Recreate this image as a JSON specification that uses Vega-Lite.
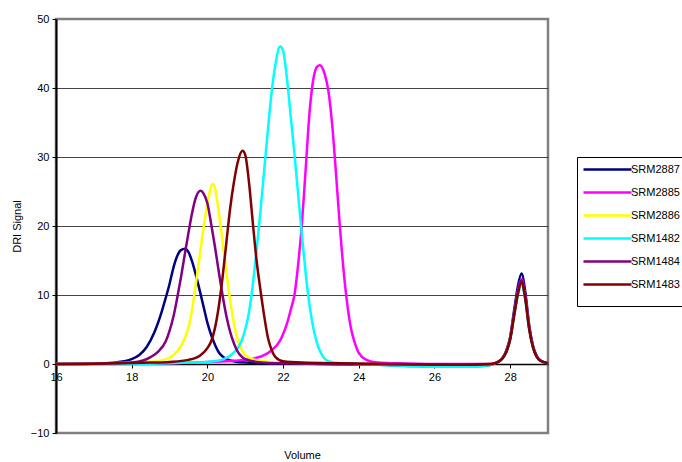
{
"$schema": "https://vega.github.io/schema/vega-lite/v6.json",
"width": 492, "height": 414,
"autosize": "none",
"padding": {"left": 56, "top": 19, "right": 134, "bottom": 29},
"background": "white",
"config": {"font": "Liberation Sans", "view": {"stroke": "#808080", "strokeWidth": 2.5}},
"data": {"values": [
{"s":"SRM2887","v":16,"d":0},{"s":"SRM2887","v":16.5,"d":0},{"s":"SRM2887","v":17,"d":0.05},{"s":"SRM2887","v":17.5,"d":0.2},{"s":"SRM2887","v":17.8,"d":0.4},{"s":"SRM2887","v":18,"d":0.7},{"s":"SRM2887","v":18.2,"d":1.3},{"s":"SRM2887","v":18.4,"d":2.5},{"s":"SRM2887","v":18.6,"d":4.6},{"s":"SRM2887","v":18.8,"d":7.7},{"s":"SRM2887","v":18.9,"d":9.6},{"s":"SRM2887","v":19,"d":11.6},{"s":"SRM2887","v":19.1,"d":13.9},{"s":"SRM2887","v":19.2,"d":15.6},{"s":"SRM2887","v":19.3,"d":16.5},{"s":"SRM2887","v":19.41,"d":16.7},{"s":"SRM2887","v":19.5,"d":16.2},{"s":"SRM2887","v":19.6,"d":14.8},{"s":"SRM2887","v":19.7,"d":12.8},{"s":"SRM2887","v":19.8,"d":10.6},{"s":"SRM2887","v":19.9,"d":8.3},{"s":"SRM2887","v":20,"d":6},{"s":"SRM2887","v":20.1,"d":4.2},{"s":"SRM2887","v":20.2,"d":2.8},{"s":"SRM2887","v":20.3,"d":1.7},{"s":"SRM2887","v":20.4,"d":1.1},{"s":"SRM2887","v":20.6,"d":0.5},{"s":"SRM2887","v":21,"d":0.2},{"s":"SRM2887","v":22,"d":0.1},{"s":"SRM2887","v":23,"d":0},{"s":"SRM2887","v":24.5,"d":-0.1},{"s":"SRM2887","v":25.5,"d":-0.3},{"s":"SRM2887","v":26.5,"d":-0.4},{"s":"SRM2887","v":27.2,"d":-0.3},{"s":"SRM2887","v":27.5,"d":-0.1},{"s":"SRM2887","v":27.6,"d":0.13},{"s":"SRM2887","v":27.7,"d":0.39},{"s":"SRM2887","v":27.8,"d":0.92},{"s":"SRM2887","v":27.9,"d":1.97},{"s":"SRM2887","v":28,"d":3.93},{"s":"SRM2887","v":28.1,"d":7.6},{"s":"SRM2887","v":28.2,"d":11.14},{"s":"SRM2887","v":28.3,"d":13.1},{"s":"SRM2887","v":28.4,"d":10.48},{"s":"SRM2887","v":28.5,"d":5.76},{"s":"SRM2887","v":28.6,"d":2.75},{"s":"SRM2887","v":28.7,"d":1.18},{"s":"SRM2887","v":28.8,"d":0.52},{"s":"SRM2887","v":29,"d":0.13},
{"s":"SRM2885","v":16,"d":0},{"s":"SRM2885","v":18,"d":0.05},{"s":"SRM2885","v":19,"d":0.1},{"s":"SRM2885","v":20,"d":0.3},{"s":"SRM2885","v":20.5,"d":0.4},{"s":"SRM2885","v":21,"d":0.6},{"s":"SRM2885","v":21.3,"d":0.9},{"s":"SRM2885","v":21.5,"d":1.3},{"s":"SRM2885","v":21.7,"d":2},{"s":"SRM2885","v":21.9,"d":3.2},{"s":"SRM2885","v":22,"d":4.3},{"s":"SRM2885","v":22.1,"d":5.8},{"s":"SRM2885","v":22.2,"d":7.8},{"s":"SRM2885","v":22.3,"d":10},{"s":"SRM2885","v":22.4,"d":14.5},{"s":"SRM2885","v":22.5,"d":20.5},{"s":"SRM2885","v":22.6,"d":28.5},{"s":"SRM2885","v":22.7,"d":36.5},{"s":"SRM2885","v":22.8,"d":41.3},{"s":"SRM2885","v":22.9,"d":43.1},{"s":"SRM2885","v":22.97,"d":43.3},{"s":"SRM2885","v":23.1,"d":42},{"s":"SRM2885","v":23.2,"d":39.5},{"s":"SRM2885","v":23.3,"d":34.5},{"s":"SRM2885","v":23.4,"d":27.5},{"s":"SRM2885","v":23.5,"d":20},{"s":"SRM2885","v":23.6,"d":13.5},{"s":"SRM2885","v":23.7,"d":8.5},{"s":"SRM2885","v":23.8,"d":5},{"s":"SRM2885","v":23.9,"d":3},{"s":"SRM2885","v":24,"d":1.6},{"s":"SRM2885","v":24.2,"d":0.6},{"s":"SRM2885","v":24.5,"d":0.2},{"s":"SRM2885","v":25,"d":0.1},{"s":"SRM2885","v":26,"d":0},{"s":"SRM2885","v":27,"d":0},{"s":"SRM2885","v":27.5,"d":0},{"s":"SRM2885","v":27.6,"d":0.12},{"s":"SRM2885","v":27.7,"d":0.37},{"s":"SRM2885","v":27.8,"d":0.86},{"s":"SRM2885","v":27.9,"d":1.85},{"s":"SRM2885","v":28,"d":3.69},{"s":"SRM2885","v":28.1,"d":7.13},{"s":"SRM2885","v":28.2,"d":10.46},{"s":"SRM2885","v":28.3,"d":12.3},{"s":"SRM2885","v":28.4,"d":9.84},{"s":"SRM2885","v":28.5,"d":5.41},{"s":"SRM2885","v":28.6,"d":2.58},{"s":"SRM2885","v":28.7,"d":1.11},{"s":"SRM2885","v":28.8,"d":0.49},{"s":"SRM2885","v":29,"d":0.12},
{"s":"SRM2886","v":16,"d":0},{"s":"SRM2886","v":17,"d":0.05},{"s":"SRM2886","v":18,"d":0.2},{"s":"SRM2886","v":18.5,"d":0.35},{"s":"SRM2886","v":18.8,"d":0.5},{"s":"SRM2886","v":19,"d":0.9},{"s":"SRM2886","v":19.2,"d":1.8},{"s":"SRM2886","v":19.4,"d":3.7},{"s":"SRM2886","v":19.5,"d":5.3},{"s":"SRM2886","v":19.6,"d":8},{"s":"SRM2886","v":19.7,"d":11.8},{"s":"SRM2886","v":19.8,"d":15.8},{"s":"SRM2886","v":19.9,"d":19.8},{"s":"SRM2886","v":20,"d":23.3},{"s":"SRM2886","v":20.07,"d":25.2},{"s":"SRM2886","v":20.14,"d":26.1},{"s":"SRM2886","v":20.2,"d":25.5},{"s":"SRM2886","v":20.3,"d":22},{"s":"SRM2886","v":20.4,"d":17.8},{"s":"SRM2886","v":20.5,"d":13.4},{"s":"SRM2886","v":20.6,"d":9.3},{"s":"SRM2886","v":20.7,"d":5.9},{"s":"SRM2886","v":20.8,"d":3.5},{"s":"SRM2886","v":20.9,"d":2.1},{"s":"SRM2886","v":21,"d":1.3},{"s":"SRM2886","v":21.2,"d":0.7},{"s":"SRM2886","v":21.5,"d":0.4},{"s":"SRM2886","v":22,"d":0.2},{"s":"SRM2886","v":23,"d":0.1},{"s":"SRM2886","v":24,"d":0},{"s":"SRM2886","v":26,"d":-0.1},{"s":"SRM2886","v":27.5,"d":0},{"s":"SRM2886","v":27.6,"d":0.12},{"s":"SRM2886","v":27.7,"d":0.35},{"s":"SRM2886","v":27.8,"d":0.83},{"s":"SRM2886","v":27.9,"d":1.77},{"s":"SRM2886","v":28,"d":3.54},{"s":"SRM2886","v":28.1,"d":6.84},{"s":"SRM2886","v":28.2,"d":10.03},{"s":"SRM2886","v":28.3,"d":11.8},{"s":"SRM2886","v":28.4,"d":9.44},{"s":"SRM2886","v":28.5,"d":5.19},{"s":"SRM2886","v":28.6,"d":2.48},{"s":"SRM2886","v":28.7,"d":1.06},{"s":"SRM2886","v":28.8,"d":0.47},{"s":"SRM2886","v":29,"d":0.12},
{"s":"SRM1482","v":16,"d":0},{"s":"SRM1482","v":18,"d":0},{"s":"SRM1482","v":19,"d":0.1},{"s":"SRM1482","v":19.5,"d":0.2},{"s":"SRM1482","v":20,"d":0.3},{"s":"SRM1482","v":20.3,"d":0.5},{"s":"SRM1482","v":20.6,"d":1.2},{"s":"SRM1482","v":20.8,"d":2.3},{"s":"SRM1482","v":20.9,"d":3.3},{"s":"SRM1482","v":21,"d":5},{"s":"SRM1482","v":21.1,"d":7.5},{"s":"SRM1482","v":21.2,"d":11.5},{"s":"SRM1482","v":21.3,"d":16.5},{"s":"SRM1482","v":21.4,"d":22},{"s":"SRM1482","v":21.5,"d":28},{"s":"SRM1482","v":21.6,"d":34},{"s":"SRM1482","v":21.7,"d":39.5},{"s":"SRM1482","v":21.8,"d":43.5},{"s":"SRM1482","v":21.92,"d":46},{"s":"SRM1482","v":22,"d":45.4},{"s":"SRM1482","v":22.1,"d":41.5},{"s":"SRM1482","v":22.2,"d":36},{"s":"SRM1482","v":22.3,"d":30.5},{"s":"SRM1482","v":22.4,"d":24.5},{"s":"SRM1482","v":22.5,"d":18.5},{"s":"SRM1482","v":22.6,"d":13},{"s":"SRM1482","v":22.7,"d":8.5},{"s":"SRM1482","v":22.8,"d":5.2},{"s":"SRM1482","v":22.9,"d":3},{"s":"SRM1482","v":23,"d":1.6},{"s":"SRM1482","v":23.2,"d":0.4},{"s":"SRM1482","v":23.5,"d":0.1},{"s":"SRM1482","v":24,"d":0},{"s":"SRM1482","v":25,"d":-0.2},{"s":"SRM1482","v":26,"d":-0.4},{"s":"SRM1482","v":27,"d":-0.4},{"s":"SRM1482","v":27.5,"d":-0.1},{"s":"SRM1482","v":27.6,"d":0.12},{"s":"SRM1482","v":27.7,"d":0.35},{"s":"SRM1482","v":27.8,"d":0.81},{"s":"SRM1482","v":27.9,"d":1.74},{"s":"SRM1482","v":28,"d":3.48},{"s":"SRM1482","v":28.1,"d":6.73},{"s":"SRM1482","v":28.2,"d":9.86},{"s":"SRM1482","v":28.3,"d":11.6},{"s":"SRM1482","v":28.4,"d":9.28},{"s":"SRM1482","v":28.5,"d":5.1},{"s":"SRM1482","v":28.6,"d":2.44},{"s":"SRM1482","v":28.7,"d":1.04},{"s":"SRM1482","v":28.8,"d":0.46},{"s":"SRM1482","v":29,"d":0.12},
{"s":"SRM1484","v":16,"d":0},{"s":"SRM1484","v":17,"d":0.05},{"s":"SRM1484","v":17.5,"d":0.1},{"s":"SRM1484","v":18,"d":0.2},{"s":"SRM1484","v":18.3,"d":0.5},{"s":"SRM1484","v":18.5,"d":1},{"s":"SRM1484","v":18.7,"d":1.8},{"s":"SRM1484","v":18.9,"d":3.3},{"s":"SRM1484","v":19,"d":4.8},{"s":"SRM1484","v":19.1,"d":6.8},{"s":"SRM1484","v":19.2,"d":9.5},{"s":"SRM1484","v":19.3,"d":12.5},{"s":"SRM1484","v":19.4,"d":15.8},{"s":"SRM1484","v":19.5,"d":19},{"s":"SRM1484","v":19.6,"d":22},{"s":"SRM1484","v":19.7,"d":24.2},{"s":"SRM1484","v":19.82,"d":25.1},{"s":"SRM1484","v":19.9,"d":24.7},{"s":"SRM1484","v":20,"d":23.3},{"s":"SRM1484","v":20.1,"d":20.3},{"s":"SRM1484","v":20.2,"d":17},{"s":"SRM1484","v":20.3,"d":13.4},{"s":"SRM1484","v":20.4,"d":10},{"s":"SRM1484","v":20.5,"d":7},{"s":"SRM1484","v":20.6,"d":4.7},{"s":"SRM1484","v":20.7,"d":3},{"s":"SRM1484","v":20.8,"d":1.8},{"s":"SRM1484","v":20.9,"d":1.1},{"s":"SRM1484","v":21,"d":0.7},{"s":"SRM1484","v":21.3,"d":0.3},{"s":"SRM1484","v":22,"d":0.1},{"s":"SRM1484","v":24,"d":0},{"s":"SRM1484","v":26,"d":-0.1},{"s":"SRM1484","v":27.5,"d":0},{"s":"SRM1484","v":27.6,"d":0.12},{"s":"SRM1484","v":27.7,"d":0.36},{"s":"SRM1484","v":27.8,"d":0.85},{"s":"SRM1484","v":27.9,"d":1.82},{"s":"SRM1484","v":28,"d":3.63},{"s":"SRM1484","v":28.1,"d":7.02},{"s":"SRM1484","v":28.2,"d":10.29},{"s":"SRM1484","v":28.3,"d":12.1},{"s":"SRM1484","v":28.4,"d":9.68},{"s":"SRM1484","v":28.5,"d":5.32},{"s":"SRM1484","v":28.6,"d":2.54},{"s":"SRM1484","v":28.7,"d":1.09},{"s":"SRM1484","v":28.8,"d":0.48},{"s":"SRM1484","v":29,"d":0.12},
{"s":"SRM1483","v":16,"d":0},{"s":"SRM1483","v":17,"d":0.05},{"s":"SRM1483","v":18,"d":0.15},{"s":"SRM1483","v":18.5,"d":0.2},{"s":"SRM1483","v":19,"d":0.3},{"s":"SRM1483","v":19.5,"d":0.6},{"s":"SRM1483","v":19.8,"d":1.2},{"s":"SRM1483","v":20,"d":2.3},{"s":"SRM1483","v":20.1,"d":3.3},{"s":"SRM1483","v":20.2,"d":5.2},{"s":"SRM1483","v":20.3,"d":8.3},{"s":"SRM1483","v":20.4,"d":12.5},{"s":"SRM1483","v":20.5,"d":17.5},{"s":"SRM1483","v":20.6,"d":22.5},{"s":"SRM1483","v":20.7,"d":26.3},{"s":"SRM1483","v":20.8,"d":29.2},{"s":"SRM1483","v":20.93,"d":30.9},{"s":"SRM1483","v":21,"d":30.3},{"s":"SRM1483","v":21.1,"d":26.3},{"s":"SRM1483","v":21.2,"d":20.5},{"s":"SRM1483","v":21.3,"d":15},{"s":"SRM1483","v":21.4,"d":10.8},{"s":"SRM1483","v":21.5,"d":7},{"s":"SRM1483","v":21.6,"d":3.8},{"s":"SRM1483","v":21.7,"d":2},{"s":"SRM1483","v":21.8,"d":1},{"s":"SRM1483","v":22,"d":0.4},{"s":"SRM1483","v":22.5,"d":0.2},{"s":"SRM1483","v":23.5,"d":0.1},{"s":"SRM1483","v":25,"d":0},{"s":"SRM1483","v":27,"d":-0.1},{"s":"SRM1483","v":27.5,"d":0},{"s":"SRM1483","v":27.6,"d":0.12},{"s":"SRM1483","v":27.7,"d":0.35},{"s":"SRM1483","v":27.8,"d":0.83},{"s":"SRM1483","v":27.9,"d":1.77},{"s":"SRM1483","v":28,"d":3.54},{"s":"SRM1483","v":28.1,"d":6.84},{"s":"SRM1483","v":28.2,"d":10.03},{"s":"SRM1483","v":28.3,"d":11.8},{"s":"SRM1483","v":28.4,"d":9.44},{"s":"SRM1483","v":28.5,"d":5.19},{"s":"SRM1483","v":28.6,"d":2.48},{"s":"SRM1483","v":28.7,"d":1.06},{"s":"SRM1483","v":28.8,"d":0.47},{"s":"SRM1483","v":29,"d":0.12}
]},
"mark": {"type": "line", "interpolate": "monotone", "strokeWidth": 2.5},
"encoding": {
"x": {"field": "v", "type": "quantitative", "scale": {"domain": [16, 29], "nice": false, "zero": false},
"axis": {"title": "Volume", "values": [16,18,20,22,24,26,28], "offset": -69, "domainColor": "black", "domainWidth": 1.5, "tickColor": "black", "tickSize": 4, "labelColor": "black", "labelFontSize": 11, "labelPadding": 3, "labelFlush": false, "labelOverlap": false, "grid": false, "titleFontSize": 11, "titleFontWeight": "normal", "titleColor": "black", "titleY": 91, "titleBaseline": "middle"}},
"y": {"field": "d", "type": "quantitative", "scale": {"domain": [-10, 50], "nice": false},
"axis": {"title": "DRI Signal", "values": [-10,0,10,20,30,40,50], "domainColor": "black", "domainWidth": 2, "tickColor": "black", "tickSize": 4, "labelColor": "black", "labelFontSize": 11, "labelPadding": 3, "gridColor": {"condition": {"test": "datum.value == 50 || datum.value == -10", "value": "transparent"}, "value": "#444444"}, "gridWidth": 1.2, "titleFontSize": 11, "titleFontWeight": "normal", "titleColor": "black", "titlePadding": 8}},
"color": {"field": "s", "type": "nominal", "sort": null,
"scale": {"domain": ["SRM2887","SRM2885","SRM2886","SRM1482","SRM1484","SRM1483"], "range": ["#000080","#FF00FF","#FFFF00","#00FFFF","#800080","#800000"]},
"legend": {"title": " ", "titleOrient": "bottom", "titleFontSize": 11, "titlePadding": 0, "orient": "none", "legendX": 521, "legendY": 138, "symbolType": "M-4,0H4", "symbolSize": 144, "symbolOffset": 18, "symbolStrokeWidth": 2.5, "labelFontSize": 11, "labelColor": "black", "labelOffset": 16, "rowPadding": 10, "padding": 5, "strokeColor": "black", "fillColor": "white", "cornerRadius": 0}}
}
}
